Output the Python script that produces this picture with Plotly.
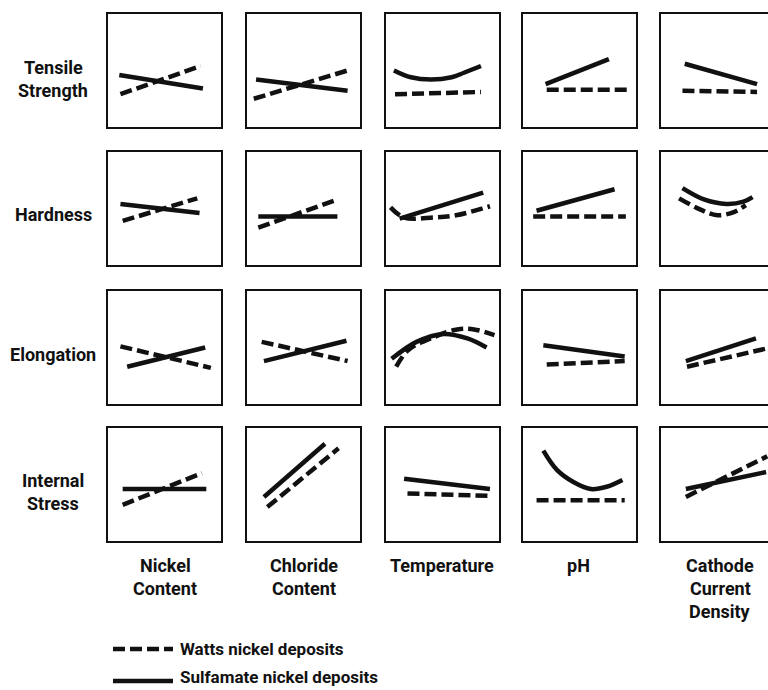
import plotly.graph_objects as go

# ---------------- data (qualitative trends; axes 0..1) -------------
PROPERTIES = [["Tensile", "Strength"], ["Hardness"], ["Elongation"], ["Internal", "Stress"]]
VARIABLES = [["Nickel", "Content"], ["Chloride", "Content"], ["Temperature"], ["pH"],
             ["Cathode", "Current", "Density"]]
SERIES = ["Watts nickel deposits", "Sulfamate nickel deposits"]

# each entry: (x values, y values) for the columns Nickel, Chloride, Temperature, pH, CCD
tensile_watts = [
    ([0.11, 0.82], [0.29, 0.54]),
    ([0.06, 0.89], [0.25, 0.50]),
    ([0.08, 0.84], [0.29, 0.31]),
    ([0.21, 0.96], [0.33, 0.33]),
    ([0.19, 0.85], [0.32, 0.31]),
]
tensile_sulfamate = [
    ([0.10, 0.84], [0.46, 0.34]),
    ([0.08, 0.89], [0.42, 0.32]),
    ([0.07, 0.22, 0.40, 0.58, 0.69, 0.84], [0.50, 0.44, 0.42, 0.44, 0.48, 0.54]),
    ([0.20, 0.76], [0.38, 0.60]),
    ([0.21, 0.85], [0.56, 0.38]),
]
hardness_watts = [
    ([0.13, 0.79], [0.39, 0.59]),
    ([0.10, 0.80], [0.33, 0.58]),
    ([0.04, 0.16, 0.42, 0.62, 0.92], [0.51, 0.42, 0.42, 0.44, 0.52]),
    ([0.09, 0.91], [0.43, 0.43]),
    ([0.16, 0.35, 0.50, 0.65, 0.75], [0.59, 0.49, 0.44, 0.47, 0.53]),
]
hardness_sulfamate = [
    ([0.11, 0.81], [0.54, 0.46]),
    ([0.10, 0.80], [0.43, 0.43]),
    ([0.12, 0.86], [0.41, 0.64]),
    ([0.12, 0.81], [0.48, 0.67]),
    ([0.19, 0.38, 0.58, 0.73, 0.81], [0.68, 0.58, 0.54, 0.56, 0.60]),
]
elongation_watts = [
    ([0.11, 0.91], [0.51, 0.32]),
    ([0.13, 0.89], [0.55, 0.38]),
    ([0.09, 0.20, 0.42, 0.63, 0.78, 0.96], [0.33, 0.48, 0.59, 0.66, 0.66, 0.61]),
    ([0.21, 0.90], [0.35, 0.38]),
    ([0.23, 0.93], [0.33, 0.49]),
]
elongation_sulfamate = [
    ([0.17, 0.86], [0.33, 0.50]),
    ([0.15, 0.88], [0.38, 0.56]),
    ([0.05, 0.27, 0.51, 0.72, 0.89], [0.40, 0.55, 0.62, 0.58, 0.50]),
    ([0.18, 0.90], [0.52, 0.42]),
    ([0.22, 0.84], [0.38, 0.58]),
]
stress_watts = [
    ([0.13, 0.83], [0.32, 0.60]),
    ([0.18, 0.81], [0.30, 0.82]),
    ([0.19, 0.93], [0.42, 0.40]),
    ([0.12, 0.90], [0.36, 0.36]),
    ([0.22, 0.94], [0.39, 0.75]),
]
stress_sulfamate = [
    ([0.13, 0.87], [0.46, 0.46]),
    ([0.15, 0.69], [0.39, 0.86]),
    ([0.16, 0.92], [0.55, 0.46]),
    ([0.18, 0.30, 0.45, 0.60, 0.74, 0.88], [0.80, 0.63, 0.52, 0.46, 0.48, 0.54]),
    ([0.22, 0.93], [0.46, 0.61]),
]

ROWS_WATTS = [tensile_watts, hardness_watts, elongation_watts, stress_watts]
ROWS_SULFAMATE = [tensile_sulfamate, hardness_sulfamate, elongation_sulfamate, stress_sulfamate]

# ---------------- layout geometry -------------------------------------------------------
W, H = 768, 690
COL_LEFT = [108, 247, 386, 523, 661]
ROW_TOP = [14, 152, 291, 428]
SIZE = 113
FONT = "Roboto, Liberation Sans, sans-serif"
FS = 18
INK = "#111111"
DASH = "12px,5px"
LW = 4.5

fig = go.Figure()
layout = {}

for r in range(4):
    for c in range(5):
        i = r * 5 + c + 1
        sfx = "" if i == 1 else str(i)
        left = COL_LEFT[c]
        right = min(left + SIZE, W)
        top = ROW_TOP[r]
        common = dict(showline=True, linecolor=INK, linewidth=2, showticklabels=False,
                      ticks="", showgrid=False, zeroline=False, fixedrange=True)
        layout["xaxis" + sfx] = dict(domain=[left / W, right / W],
                                     range=[0, (right - left) / SIZE],
                                     anchor="y" + sfx, mirror=True, **common)
        layout["yaxis" + sfx] = dict(domain=[(H - top - SIZE) / H, (H - top) / H],
                                     range=[0, 1], anchor="x" + sfx,
                                     mirror=(right - left == SIZE), **common)
        for s, rows in enumerate([ROWS_WATTS, ROWS_SULFAMATE]):
            xs, ys = rows[r][c]
            fig.add_trace(go.Scatter(
                x=xs, y=ys, mode="lines", name=SERIES[s], showlegend=False,
                hoverinfo="skip", xaxis="x" + sfx, yaxis="y" + sfx,
                line=dict(color=INK, width=LW, dash=DASH if s == 0 else "solid",
                          shape="spline" if len(xs) > 2 else "linear", smoothing=1.0)))

annotations = []


def label(text, x, y, xanchor="center", size=FS):
    annotations.append(dict(text=text, x=x / W, y=1 - y / H, xref="paper", yref="paper",
                            xanchor=xanchor, yanchor="middle", showarrow=False,
                            font=dict(family=FONT, size=size, color=INK, weight="bold")))


# row labels
ROW_LINE_Y = [[67, 90], [214], [355], [480, 503]]
for lines, ys in zip(PROPERTIES, ROW_LINE_Y):
    for t, y in zip(lines, ys):
        label(t, 53, y)

# column labels
COL_CENTER = [165, 304, 442, 578, 720]
for lines, x in zip(VARIABLES, COL_CENTER):
    for k, t in enumerate(lines):
        label(t, x, 565 + 23 * k)

# legend
LEG_LINE_Y = [649, 681]
LEG_TEXT_Y = [649, 677]
for s in range(2):
    y = LEG_LINE_Y[s]
    layout.setdefault("shapes", []).append(dict(
        type="line", xref="paper", yref="paper", x0=113 / W, x1=173 / W,
        y0=1 - y / H, y1=1 - y / H,
        line=dict(color=INK, width=LW, dash=DASH if s == 0 else "solid")))
    label(SERIES[s], 178, LEG_TEXT_Y[s], xanchor="left", size=17)

fig.update_layout(width=W, height=H, margin=dict(l=0, r=0, t=0, b=0),
                  paper_bgcolor="white", plot_bgcolor="white",
                  annotations=annotations, **layout)

fig.write_html("out.html", config={"displayModeBar": False},
               post_script="document.body.style.margin='0';"
                           "document.body.style.overflow='hidden';")
